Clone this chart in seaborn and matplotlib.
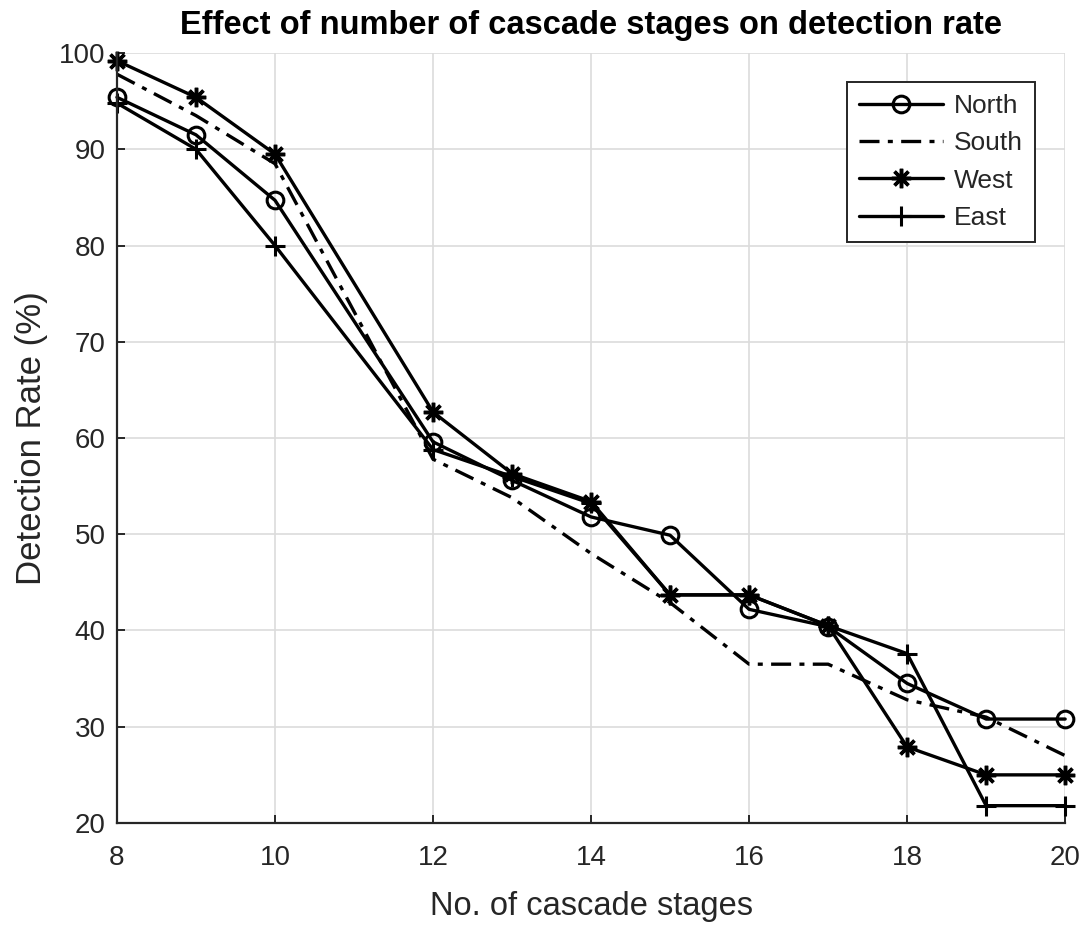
import matplotlib
matplotlib.use("Agg")
import matplotlib.pyplot as plt
import seaborn as sns
import pandas as pd

# Cascade stage counts (no run at 11 stages)
stages = [8, 9, 10, 12, 13, 14, 15, 16, 17, 18, 19, 20]

north = [95.4, 91.5, 84.7, 59.6, 55.6, 51.8, 49.9, 42.2, 40.4, 34.5, 30.8, 30.8]
south = [97.8, 93.5, 88.5, 57.8, 53.8, 48.0, 42.9, 36.5, 36.5, 32.8, 31.0, 27.0]
west = [99.2, 95.4, 89.5, 62.7, 56.3, 53.4, 43.7, 43.7, 40.5, 27.9, 25.0, 25.0]
east = [94.8, 90.0, 80.0, 58.8, 56.0, 53.2, 43.7, 43.7, 40.5, 37.6, 21.8, 21.8]

series_names = ["North", "South", "West", "East"]
x_ticks = [8, 10, 12, 14, 16, 18, 20]
y_ticks = [20, 30, 40, 50, 60, 70, 80, 90, 100]

sns.set_theme(style="whitegrid")
plt.rcParams["font.family"] = ["Liberation Sans", "DejaVu Sans"]
plt.rcParams.update({
    "xtick.direction": "in",
    "ytick.direction": "in",
    "xtick.major.pad": 16,
    "ytick.major.pad": 8,
    "xtick.major.size": 6,
    "ytick.major.size": 6,
    "xtick.major.width": 1.4,
    "ytick.major.width": 1.4,
    "xtick.bottom": True,
    "ytick.left": True,
    "xtick.labelsize": 20,
    "ytick.labelsize": 20,
    "xtick.color": "#262626",
    "ytick.color": "#262626",
})

fig = plt.figure(figsize=(10.88, 9.27), dpi=100)
ax = fig.add_axes([0.1075, 0.1122, 0.8715, 0.8306])

styles = {
    "North": dict(marker="o", linestyle="-", mfc="none", ms=12, mew=2.2),
    "South": dict(marker=None, linestyle=(0, (6, 2.5, 1.5, 2.5))),
    "West": dict(marker=(8, 2, 0), linestyle="-", ms=14, mew=2.5),
    "East": dict(marker="+", linestyle="-", ms=15, mew=2.2),
}

frames = []
for name, vals in zip(series_names, [north, south, west, east]):
    frames.append(pd.DataFrame({"stages": stages, "rate": vals, "region": name}))
data = pd.concat(frames, ignore_index=True)

for name in series_names:
    sub = data[data["region"] == name]
    st = styles[name]
    kw = dict(color="black", linewidth=2.4, label=name, clip_on=False)
    kw["linestyle"] = st["linestyle"]
    if st["marker"] is not None:
        kw.update(marker=st["marker"], markersize=st["ms"], markeredgewidth=st["mew"],
                  markeredgecolor="black")
        kw["markerfacecolor"] = st.get("mfc", "black")
    sns.lineplot(data=sub, x="stages", y="rate", ax=ax, estimator=None, sort=False, **kw)

ax.set_xlim(8, 20)
ax.set_ylim(20, 100)
ax.set_xticks(x_ticks)
ax.set_yticks(y_ticks)
ax.grid(True, color="#dcdcdc", linewidth=1.2)
ax.set_axisbelow(True)
ax.set_facecolor("white")
for side in ["top", "right"]:
    ax.spines[side].set_visible(False)
for side in ["left", "bottom"]:
    ax.spines[side].set_visible(True)
    ax.spines[side].set_color("#262626")
    ax.spines[side].set_linewidth(1.6)

ax.set_xlabel("No. of cascade stages", fontsize=23.5, color="#262626", labelpad=14)
ax.set_ylabel("Detection Rate (%)", fontsize=25, color="#262626", labelpad=8)
ax.set_title("Effect of number of cascade stages on detection rate", fontsize=23.5,
             fontweight="bold", color="black", pad=14)

leg = ax.legend(loc="upper right", fontsize=19, frameon=True, fancybox=False,
                edgecolor="#262626", framealpha=1, handlelength=3.2, handletextpad=0.4,
                borderpad=0.45, labelspacing=0.5, borderaxespad=0,
                bbox_to_anchor=(0.968, 0.962))
leg.get_frame().set_linewidth(1.4)
for t in leg.get_texts():
    t.set_color("#262626")

fig.savefig("out.png", dpi=100, facecolor="white")
